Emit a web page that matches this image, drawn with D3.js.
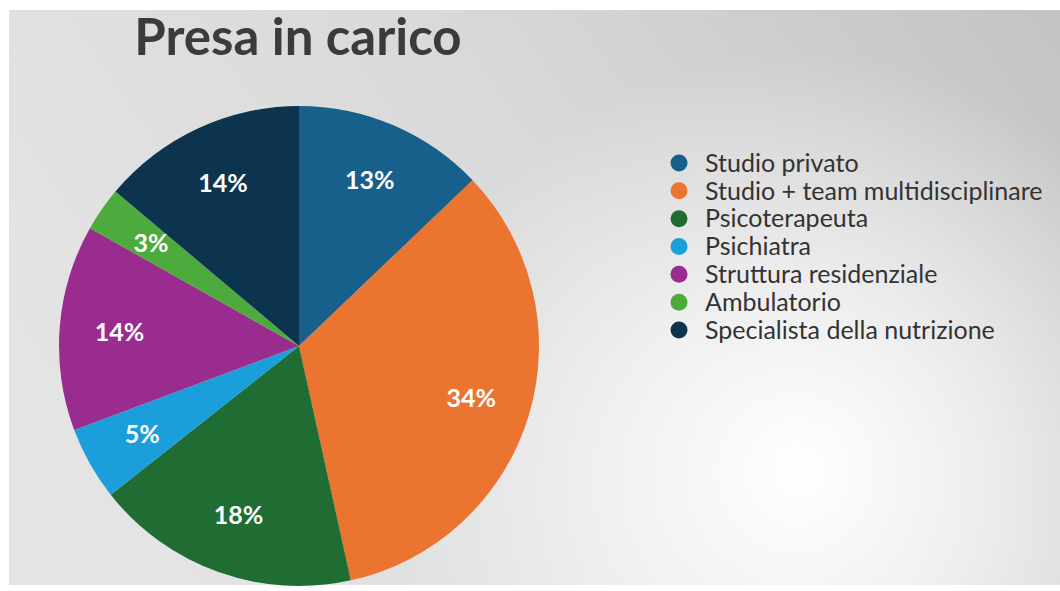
<!DOCTYPE html>
<html>
<head>
<meta charset="utf-8">
<script src="https://cdn.jsdelivr.net/npm/d3@7"></script>
<style>
  html, body { margin: 0; padding: 0; background: #ffffff; }
  svg { display: block; }
</style>
</head>
<body>
<svg id="chart" width="1060" height="591"></svg>
<script>
// Data
const categories = [
  "Studio privato",
  "Studio + team multidisciplinare",
  "Psicoterapeuta",
  "Psichiatra",
  "Struttura residenziale",
  "Ambulatorio",
  "Specialista della nutrizione"
];
const values = [13, 34, 18, 5, 14, 3, 14];
const colors = ["#17608c", "#ea7430", "#1f6d33", "#1b9fdb", "#9a2c90", "#4cab3c", "#0c344f"];
const title = "Presa in carico";

const svg = d3.select("#chart");
const W = 1060, H = 591;

// Background panel: grey base shading plus a bright highlight on the right
const defs = svg.append("defs");
const base = defs.append("linearGradient")
  .attr("id", "bgBase")
  .attr("gradientUnits", "userSpaceOnUse")
  .attr("x1", 1060).attr("y1", 0).attr("x2", 200).attr("y2", 591);
base.append("stop").attr("offset", "0").attr("stop-color", "#c3c3c3");
base.append("stop").attr("offset", "0.5").attr("stop-color", "#d9d9d9");
base.append("stop").attr("offset", "1").attr("stop-color", "#e4e4e4");

const glow = defs.append("radialGradient")
  .attr("id", "bgGlow")
  .attr("gradientUnits", "userSpaceOnUse")
  .attr("cx", 800).attr("cy", 470).attr("r", 420);
glow.append("stop").attr("offset", "0").attr("stop-color", "#ffffff").attr("stop-opacity", 1);
glow.append("stop").attr("offset", "0.45").attr("stop-color", "#ffffff").attr("stop-opacity", 0.6);
glow.append("stop").attr("offset", "1").attr("stop-color", "#ffffff").attr("stop-opacity", 0);

svg.append("rect")
  .attr("x", 9).attr("y", 10)
  .attr("width", W - 9).attr("height", 575)
  .attr("fill", "url(#bgBase)");
svg.append("rect")
  .attr("x", 9).attr("y", 10)
  .attr("width", W - 9).attr("height", 575)
  .attr("fill", "url(#bgGlow)");

// Title
svg.append("text")
  .attr("x", 298).attr("y", 55)
  .attr("text-anchor", "middle")
  .attr("font-family", "Lato, 'Open Sans', sans-serif")
  .attr("font-weight", 700)
  .attr("font-size", 51)
  .attr("fill", "#3b3b3b")
  .text(title);

// Pie
const cx = 299, cy = 346, r = 240;
const pie = d3.pie().sort(null).value(d => d);
const arcs = pie(values);
const arc = d3.arc().innerRadius(0).outerRadius(r);
const labelArc = d3.arc().innerRadius(r * 0.75).outerRadius(r * 0.75);
const color = d3.scaleOrdinal().domain(categories).range(colors);

const g = svg.append("g").attr("transform", `translate(${cx},${cy})`);
g.selectAll("path.slice")
  .data(arcs)
  .join("path")
  .attr("class", "slice")
  .attr("d", arc)
  .attr("fill", (d, i) => color(categories[i]));

g.selectAll("text.pct")
  .data(arcs)
  .join("text")
  .attr("class", "pct")
  .attr("transform", d => `translate(${labelArc.centroid(d)})`)
  .attr("text-anchor", "middle")
  .attr("dy", "0.35em")
  .attr("font-family", "Lato, 'Open Sans', sans-serif")
  .attr("font-weight", 700)
  .attr("font-size", 25)
  .attr("fill", "#ffffff")
  .text(d => d.data + "%");

// Legend
const legendY = d3.scalePoint()
  .domain(categories)
  .range([163, 330]);

const legend = svg.append("g");
const items = legend.selectAll("g.item")
  .data(categories)
  .join("g")
  .attr("class", "item")
  .attr("transform", d => `translate(0,${legendY(d)})`);

items.append("circle")
  .attr("cx", 679).attr("cy", 0).attr("r", 8.5)
  .attr("fill", d => color(d));

items.append("text")
  .attr("x", 705).attr("y", 0)
  .attr("dy", "0.35em")
  .attr("font-family", "Lato, 'Open Sans', sans-serif")
  .attr("font-size", 25)
  .attr("fill", "#333333")
  .text(d => d);
</script>
</body>
</html>
